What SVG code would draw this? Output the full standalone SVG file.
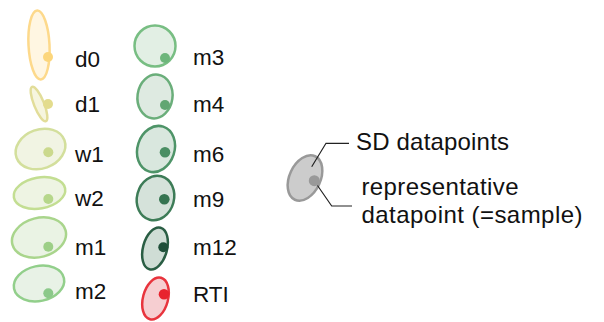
<svg xmlns="http://www.w3.org/2000/svg" width="604" height="322" viewBox="0 0 604 322">
<style>
.e{stroke-width:2.5;fill-opacity:1}
.t{font-family:"Liberation Sans",Arial,sans-serif;font-size:22.5px;fill:#111}
.lt{font-family:"Liberation Sans",Arial,sans-serif;font-size:24px;fill:#111}
.ln{fill:none;stroke:#222;stroke-width:1.2}
</style>
<rect width="604" height="322" fill="#fff"/>
<g id="d0"><ellipse class="e" cx="39" cy="45" rx="10.5" ry="34.5" transform="rotate(-3 39 45)" fill="#fff6e2" stroke="#fdd98b"/><circle cx="48" cy="57" r="5" fill="#fcd67c"/><text class="t" x="75" y="66.5">d0</text></g>
<g id="d1"><ellipse class="e" cx="39" cy="104" rx="5" ry="18.5" transform="rotate(-22 39 104)" fill="#f6f5de" stroke="#e2dd99"/><circle cx="48" cy="104" r="5" fill="#e3dc8d"/><text class="t" x="75" y="112">d1</text></g>
<g id="w1"><ellipse class="e" cx="40.5" cy="149" rx="25.5" ry="19.5" transform="rotate(-20 40.5 149)" fill="#f1f4e3" stroke="#d3df9c"/><circle cx="48.3" cy="152.3" r="5" fill="#cbd98d"/><text class="t" x="75" y="162">w1</text></g>
<g id="w2"><ellipse class="e" cx="39.5" cy="193" rx="26" ry="15.5" transform="rotate(-10 39.5 193)" fill="#eef4e3" stroke="#c3de92"/><circle cx="48.3" cy="199" r="5" fill="#b6d78b"/><text class="t" x="75" y="206">w2</text></g>
<g id="m1"><ellipse class="e" cx="39" cy="237.5" rx="27.5" ry="19.5" transform="rotate(-15 39 237.5)" fill="#eaf3e4" stroke="#a9d58c"/><circle cx="48.3" cy="246.7" r="5" fill="#9dcf87"/><text class="t" x="75" y="255">m1</text></g>
<g id="m2"><ellipse class="e" cx="39" cy="283.5" rx="25.5" ry="17.5" transform="rotate(-12 39 283.5)" fill="#e8f2e6" stroke="#92cf8b"/><circle cx="48.3" cy="293.3" r="5" fill="#8cc98a"/><text class="t" x="75" y="298.5">m2</text></g>
<g id="m3"><ellipse class="e" cx="155" cy="46" rx="20.5" ry="20.5" fill="#e2efe4" stroke="#78be83"/><circle cx="165" cy="58" r="5" fill="#6db67b"/><text class="t" x="193" y="65">m3</text></g>
<g id="m4"><ellipse class="e" cx="155" cy="96.5" rx="17.5" ry="22" transform="rotate(8 155 96.5)" fill="#deeae1" stroke="#6aae7a"/><circle cx="165" cy="105" r="5" fill="#62a672"/><text class="t" x="193" y="112">m4</text></g>
<g id="m6"><ellipse class="e" cx="156" cy="149" rx="18.5" ry="23.5" transform="rotate(18 156 149)" fill="#d9e7de" stroke="#4e9468"/><circle cx="165" cy="152.3" r="5.3" fill="#4a8e63"/><text class="t" x="193" y="162">m6</text></g>
<g id="m9"><ellipse class="e" cx="155.5" cy="198" rx="18.5" ry="22.5" transform="rotate(15 155.5 198)" fill="#d5e2da" stroke="#3d7c57"/><circle cx="164.3" cy="199.3" r="5.3" fill="#357450"/><text class="t" x="193" y="207">m9</text></g>
<g id="m12"><ellipse class="e" cx="155" cy="248.5" rx="12" ry="21.5" transform="rotate(15 155 248.5)" fill="#cfddd5" stroke="#2a5e44"/><circle cx="163.3" cy="247.3" r="5" fill="#1f4f39"/><text class="t" x="193" y="255">m12</text></g>
<g id="RTI"><ellipse class="e" cx="155.5" cy="298.5" rx="12.5" ry="21.5" transform="rotate(15 155.5 298.5)" fill="#f6ced1" stroke="#e8343d"/><circle cx="164" cy="294.3" r="5.3" fill="#e8232e"/><text class="t" x="193" y="302">RTI</text></g>
<g id="legend"><ellipse cx="305" cy="178" rx="15.5" ry="24" transform="rotate(25 305 178)" fill="#cccccc" stroke="#999999" stroke-width="2.5"/><circle cx="314.3" cy="180.7" r="5.5" fill="#999999"/><text class="lt" x="356" y="149.5" textLength="153">SD datapoints</text><text class="lt" x="361.5" y="195" textLength="157">representative</text><text class="lt" x="361.5" y="222.7" textLength="221">datapoint (=sample)</text></g>
<g id="connectors"><polyline class="ln" points="311.7,166.7 326,143.3 349,143.3"/><polyline class="ln" points="317.5,185.5 331.7,206 352,206"/></g>
</svg>
